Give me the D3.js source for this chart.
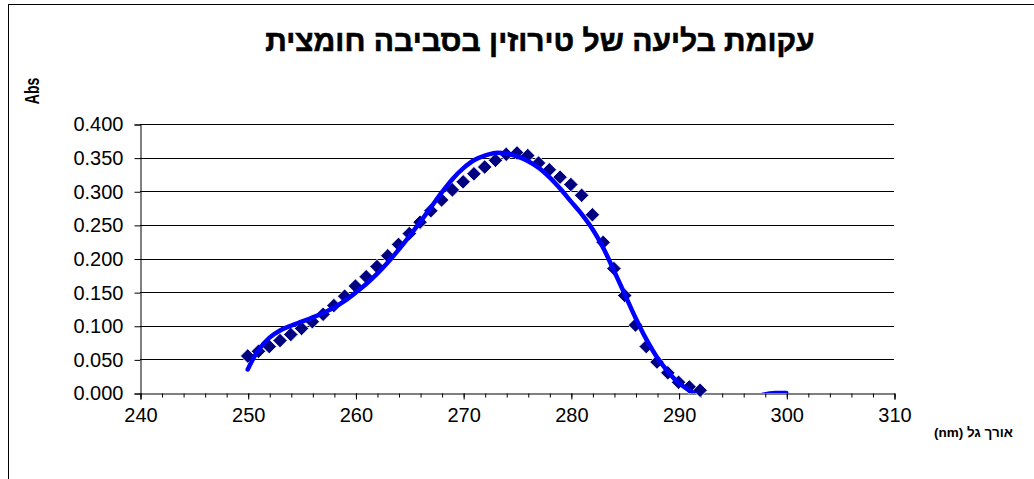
<!DOCTYPE html>
<html>
<head>
<meta charset="utf-8">
<script src="https://cdn.jsdelivr.net/npm/d3@7"></script>
<style>
  body { margin: 0; background: #fff; }
  svg { display: block; font-family: "Liberation Sans", Arial, sans-serif; }
</style>
</head>
<body>
<svg id="chart" width="1034" height="479"></svg>
<script>
// נתונים - אורכי גל (nm) ובליעה
const wavelengths = [250, 251, 252, 253, 254, 255, 256, 257, 258, 259, 260, 261, 262, 263, 264, 265, 266, 267, 268, 269, 270,
    271, 272, 273, 274, 275, 276, 277, 278, 279, 280, 281, 282, 283, 284, 285, 286, 287, 288, 289, 290, 291, 292];
const absorbance = [0.055, 0.062, 0.069, 0.078, 0.087, 0.096, 0.106, 0.117, 0.130, 0.144, 0.159, 0.173, 0.188, 0.204, 0.221, 0.237, 0.254, 0.271, 0.287, 0.302, 0.314,
    0.326, 0.336, 0.346, 0.355, 0.357, 0.353, 0.342, 0.332, 0.321, 0.310, 0.294, 0.265, 0.224, 0.185, 0.145, 0.101, 0.069, 0.046, 0.030, 0.016, 0.009, 0.004];

// קו מגמה (פולינום) כפי שנקרא מהתמונה
const trendX = [250, 251, 252, 253, 254, 255, 256, 257, 258, 259, 260, 261, 262, 263, 264, 265, 266, 267, 268, 269, 270,
    271, 272, 273, 274, 275, 276, 277, 278, 279, 280, 281, 282, 283, 284, 285, 286, 287, 288, 289, 290, 291, 292,
    293, 294, 295, 296, 297, 298, 299, 300];
const trendY = [0.035, 0.064, 0.082, 0.093, 0.100, 0.106, 0.112, 0.119, 0.127, 0.137, 0.149, 0.162, 0.177, 0.194, 0.213, 0.233, 0.254, 0.276, 0.298, 0.318, 0.334,
    0.346, 0.353, 0.357, 0.356, 0.352, 0.345, 0.335, 0.321, 0.304, 0.285, 0.266, 0.244, 0.216, 0.182, 0.147, 0.112, 0.080, 0.053, 0.032, 0.015, 0.004, -0.005,
    -0.011, -0.015, -0.016, -0.013, -0.007, -0.002, 0.000, 0.000];

const xTicks = [240, 250, 260, 270, 280, 290, 300, 310];
const yTicks = [0, 0.05, 0.1, 0.15, 0.2, 0.25, 0.3, 0.35, 0.4];

const titleText = "עקומת בליעה של טירוזין בסביבה חומצית";
const xLabel = "אורך גל (nm)";
const yLabel = "Abs";

const svg = d3.select("#chart");

// מסגרת חיצונית
svg.append("rect")
    .attr("x", 8.5).attr("y", 4.5)
    .attr("width", 1040).attr("height", 490)
    .attr("fill", "none").attr("stroke", "#000");

const x = d3.scaleLinear().domain([240, 310]).range([140, 894]);
const y = d3.scaleLinear().domain([0, 0.4]).range([393, 124]);

// קווי רשת
svg.append("g")
    .selectAll("line")
    .data(yTicks.slice(1))
    .enter()
    .append("line")
    .attr("x1", x(240)).attr("x2", x(310))
    .attr("y1", d => Math.round(y(d)) + 0.5)
    .attr("y2", d => Math.round(y(d)) + 0.5)
    .attr("stroke", "#000")
    .attr("stroke-width", 1);

// ציר Y
const yAxis = svg.append("g")
    .attr("transform", `translate(${x(240) + 0.5},0.5)`)
    .call(d3.axisLeft(y).tickValues(yTicks).tickFormat(d3.format(".3f")).tickSize(6).tickPadding(11));
yAxis.selectAll("text").style("font-size", "20px").attr("fill", "#000");

// ציר X עם שנתות משניות
const xMinor = svg.append("g")
    .attr("transform", `translate(0.5,${y(0) + 0.5})`)
    .call(d3.axisBottom(x).ticks(35).tickSize(4).tickFormat(""));
xMinor.select(".domain").remove();

const xAxis = svg.append("g")
    .attr("transform", `translate(0.5,${y(0) + 0.5})`)
    .call(d3.axisBottom(x).tickValues(xTicks).tickFormat(d3.format("d")).tickSize(6).tickPadding(8));
xAxis.selectAll("text").style("font-size", "20px").attr("fill", "#000");
svg.selectAll(".domain").attr("stroke", "#000");

// נקודות מדידה
const diamond = d3.symbol().type(d3.symbolSquare).size(105);
svg.append("g")
    .selectAll("path")
    .data(wavelengths.map((w, i) => ({ w, a: absorbance[i] })))
    .enter()
    .append("path")
    .attr("d", diamond)
    .attr("transform", d => `translate(${x(d.w)},${y(d.a)}) rotate(45)`)
    .attr("fill", "#000080")
    .attr("stroke", "#fff")
    .attr("stroke-width", 0.8);

// קו מגמה, חתוך לשטח השרטוט
svg.append("clipPath").attr("id", "plotClip")
    .append("rect")
    .attr("x", x(240)).attr("y", y(0.4) - 5)
    .attr("width", x(310) - x(240)).attr("height", y(0) - y(0.4) + 5);

const line = d3.line()
    .x(d => x(d[0]))
    .y(d => y(d[1]))
    .curve(d3.curveCatmullRom);

svg.append("path")
    .datum(trendX.map((w, i) => [w, trendY[i]]))
    .attr("clip-path", "url(#plotClip)")
    .attr("d", line)
    .attr("fill", "none")
    .attr("stroke", "#0000ff")
    .attr("stroke-width", 4.5)
    .attr("stroke-linecap", "round");

// כותרת
svg.append("text")
    .attr("x", 540).attr("y", 51)
    .attr("text-anchor", "middle")
    .style("font-size", "30px")
    .style("font-weight", "bold")
    .attr("stroke", "#000")
    .attr("stroke-width", 0.6)
    .text(titleText);

// תוויות צירים
svg.append("text")
    .attr("transform", "translate(39,91) rotate(-90) scale(0.7,1)")
    .attr("text-anchor", "middle")
    .style("font-size", "20px")
    .style("font-weight", "bold")
    .text(yLabel);

svg.append("text")
    .attr("x", 1013).attr("y", 437)
    .attr("text-anchor", "start")
    .attr("direction", "rtl")
    .style("font-size", "13.5px")
    .style("font-weight", "bold")
    .text(xLabel);
</script>
</body>
</html>
